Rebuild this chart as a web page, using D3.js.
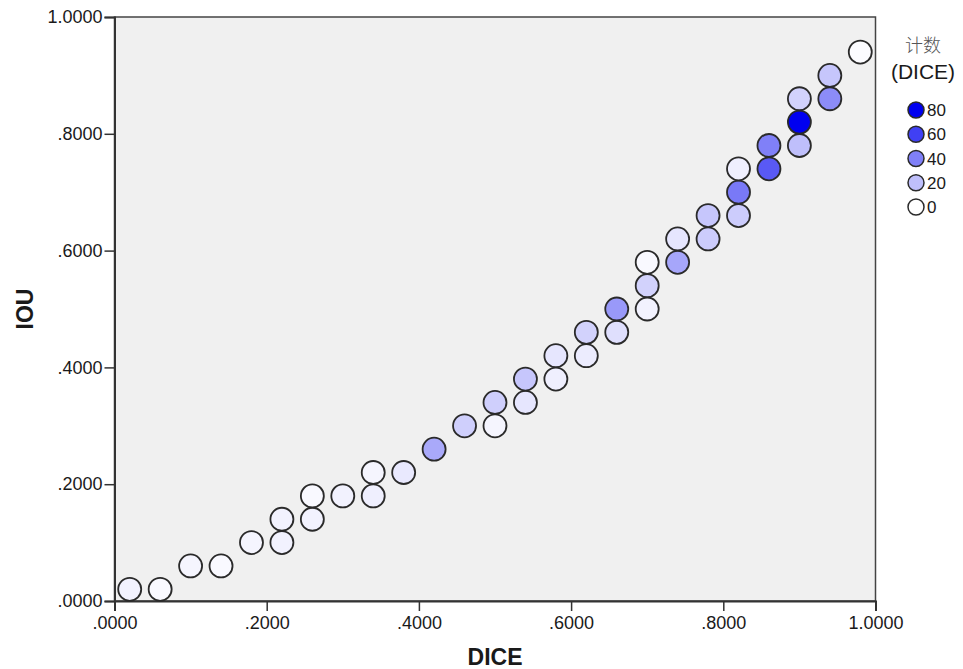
<!DOCTYPE html>
<html>
<head>
  <meta charset="utf-8">
  <title>DICE vs IOU</title>
  <script src="https://cdn.jsdelivr.net/npm/d3@7"></script>
  <style>
    body { margin: 0; background: #fff; }
    text { font-family: "Liberation Sans", Arial, sans-serif; fill: #1a1a1a; }
  </style>
</head>
<body>
  <script>
    const w = 963;
    const h = 669;

    // data: binned DICE / IOU pairs with their counts
    const dice = [0.02, 0.06, 0.10, 0.14, 0.18, 0.22, 0.22, 0.26, 0.26, 0.30,
      0.34, 0.34, 0.38, 0.42, 0.46, 0.50, 0.50, 0.54, 0.54, 0.58,
      0.58, 0.62, 0.62, 0.66, 0.66, 0.70, 0.70, 0.70, 0.74, 0.74,
      0.78, 0.78, 0.82, 0.82, 0.82, 0.86, 0.86, 0.90, 0.90, 0.90,
      0.94, 0.94, 0.98];
    const iou = [0.02, 0.02, 0.06, 0.06, 0.10, 0.10, 0.14, 0.14, 0.18, 0.18,
      0.18, 0.22, 0.22, 0.26, 0.30, 0.30, 0.34, 0.34, 0.38, 0.38,
      0.42, 0.42, 0.46, 0.46, 0.50, 0.50, 0.54, 0.58, 0.58, 0.62,
      0.62, 0.66, 0.66, 0.70, 0.74, 0.74, 0.78, 0.78, 0.82, 0.86,
      0.86, 0.90, 0.94];
    const counts = [4, 2, 3, 2, 3, 4, 4, 4, 2, 4,
      5, 3, 7, 27, 15, 3, 15, 8, 18, 5,
      8, 6, 14, 10, 32, 4, 14, 2, 28, 8,
      16, 18, 16, 42, 5, 52, 40, 20, 82, 14,
      36, 18, 1];

    const axisTicks = [0, 0.2, 0.4, 0.6, 0.8, 1.0];
    const legendValues = [80, 60, 40, 20, 0];

    const points = dice.map((d, i) => ({ x: d, y: iou[i], n: counts[i] }));

    // plot area
    const pLeft = 114.5, pRight = 875.5, pTop = 17, pBottom = 601;

    const xScale = d3.scaleLinear().domain([0, 1]).range([pLeft, pRight]);
    const yScale = d3.scaleLinear().domain([0, 1]).range([pBottom, pTop]);
    const colour = d3.scaleLinear().domain([0, 80])
      .range(["#ffffff", "#0000f0"]).clamp(true);

    const fmt = v => d3.format(".4f")(v).replace(/^0/, "");

    const svg = d3.select("body").append("svg")
      .attr("width", w)
      .attr("height", h);

    // baggrund
    svg.append("rect")
      .attr("x", pLeft).attr("y", pTop)
      .attr("width", pRight - pLeft).attr("height", pBottom - pTop)
      .attr("fill", "#f0f0f0")
      .attr("stroke", "#444")
      .attr("stroke-width", 1.5);

    // akser
    const xAxis = d3.axisBottom(xScale).tickValues(axisTicks).tickFormat(fmt)
      .tickSize(10).tickPadding(5);
    const yAxis = d3.axisLeft(yScale).tickValues(axisTicks).tickFormat(fmt)
      .tickSize(10).tickPadding(2);

    const gx = svg.append("g")
      .attr("transform", "translate(0," + pBottom + ")")
      .call(xAxis);
    const gy = svg.append("g")
      .attr("transform", "translate(" + pLeft + ",0)")
      .call(yAxis);

    [gx, gy].forEach(g => {
      g.select(".domain").attr("stroke", "#333").attr("stroke-width", 2);
      g.selectAll(".tick line").attr("stroke", "#333").attr("stroke-width", 1.5);
      g.selectAll(".tick text")
        .attr("font-size", 18)
        .attr("font-family", "Liberation Sans, Arial, sans-serif")
        .attr("fill", "#1a1a1a");
    });

    // punkter
    svg.append("g").selectAll("circle")
      .data(points)
      .enter()
      .append("circle")
      .attr("cx", d => xScale(d.x))
      .attr("cy", d => yScale(d.y))
      .attr("r", 11.5)
      .attr("fill", d => colour(d.n))
      .attr("stroke", "#2a2a2a")
      .attr("stroke-width", 1.8);

    // akse-titler
    svg.append("text")
      .attr("x", (pLeft + pRight) / 2)
      .attr("y", 665)
      .attr("text-anchor", "middle")
      .attr("font-size", 23)
      .attr("font-weight", "bold")
      .text("DICE");

    svg.append("text")
      .attr("transform", "translate(33," + (pTop + pBottom) / 2 + ") rotate(-90)")
      .attr("text-anchor", "middle")
      .attr("font-size", 23)
      .attr("font-weight", "bold")
      .text("IOU");

    // legend
    const lg = svg.append("g");
    lg.append("text")
      .attr("x", 923).attr("y", 52)
      .attr("text-anchor", "middle")
      .attr("font-size", 18)
      .style("font-family", "'Noto Sans CJK SC', sans-serif")
      .style("font-weight", 300)
      .style("fill", "#555")
      .text("计数");
    lg.append("text")
      .attr("x", 923).attr("y", 79)
      .attr("text-anchor", "middle")
      .attr("font-size", 21)
      .text("(DICE)");

    const legendY = d3.scalePoint().domain(legendValues).range([110, 207]);

    const items = lg.selectAll("g.item")
      .data(legendValues)
      .enter()
      .append("g")
      .attr("class", "item")
      .attr("transform", d => "translate(916," + legendY(d) + ")");
    items.append("circle")
      .attr("r", 8)
      .attr("fill", d => colour(d))
      .attr("stroke", "#2a2a2a")
      .attr("stroke-width", 1.5);
    items.append("text")
      .attr("x", 11)
      .attr("y", 6)
      .attr("font-size", 17)
      .text(d => d);
  </script>
</body>
</html>
